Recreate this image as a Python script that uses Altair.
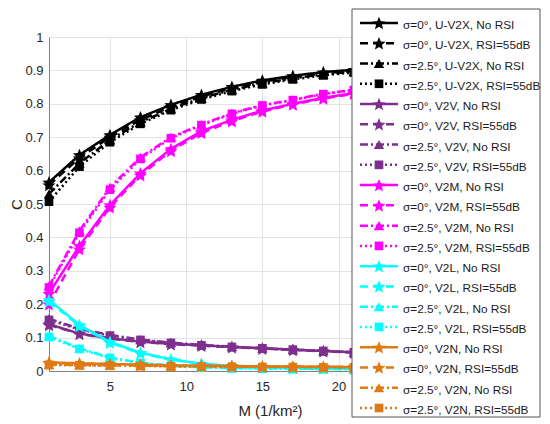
import math
import altair as alt
import pandas as pd

# ---------------- data ----------------
M = [1, 3, 5, 7, 9, 11, 13, 15, 17, 19, 21]

uv2x_s0_no = [0.565, 0.647, 0.707, 0.760, 0.797, 0.827, 0.851, 0.870, 0.884, 0.895, 0.902]
uv2x_s0_rsi = [0.557, 0.638, 0.700, 0.752, 0.791, 0.822, 0.846, 0.866, 0.880, 0.891, 0.899]
uv2x_s25_no = [0.530, 0.622, 0.692, 0.745, 0.785, 0.817, 0.842, 0.862, 0.876, 0.888, 0.896]
uv2x_s25_rsi = [0.507, 0.612, 0.685, 0.740, 0.781, 0.813, 0.838, 0.858, 0.873, 0.885, 0.894]

v2v_s0_no = [0.140, 0.112, 0.098, 0.088, 0.081, 0.077, 0.072, 0.068, 0.064, 0.060, 0.056]
v2v_s0_rsi = [0.138, 0.111, 0.097, 0.087, 0.080, 0.076, 0.071, 0.067, 0.063, 0.059, 0.055]
v2v_s25_no = [0.157, 0.126, 0.108, 0.094, 0.085, 0.078, 0.073, 0.068, 0.064, 0.060, 0.056]
v2v_s25_rsi = [0.153, 0.124, 0.106, 0.093, 0.084, 0.077, 0.072, 0.068, 0.064, 0.060, 0.056]

v2m_s0_no = [0.232, 0.375, 0.497, 0.592, 0.665, 0.718, 0.752, 0.780, 0.800, 0.818, 0.832]
v2m_s0_rsi = [0.200, 0.365, 0.490, 0.586, 0.659, 0.713, 0.748, 0.777, 0.798, 0.816, 0.830]
v2m_s25_no = [0.255, 0.420, 0.550, 0.640, 0.700, 0.738, 0.772, 0.796, 0.812, 0.830, 0.842]
v2m_s25_rsi = [0.250, 0.414, 0.543, 0.635, 0.697, 0.736, 0.770, 0.795, 0.811, 0.829, 0.841]

v2l_s0_no = [0.213, 0.138, 0.087, 0.055, 0.035, 0.022, 0.015, 0.011, 0.009, 0.008, 0.007]
v2l_s0_rsi = [0.208, 0.135, 0.085, 0.053, 0.034, 0.021, 0.014, 0.011, 0.009, 0.008, 0.007]
v2l_s25_no = [0.105, 0.068, 0.040, 0.025, 0.016, 0.011, 0.009, 0.008, 0.007, 0.006, 0.006]
v2l_s25_rsi = [0.102, 0.066, 0.039, 0.024, 0.015, 0.011, 0.008, 0.007, 0.006, 0.006, 0.005]

v2n_s0_no = [0.026, 0.023, 0.021, 0.019, 0.017, 0.016, 0.015, 0.014, 0.013, 0.013, 0.012]
v2n_s0_rsi = [0.024, 0.022, 0.020, 0.018, 0.016, 0.015, 0.014, 0.013, 0.013, 0.012, 0.012]
v2n_s25_no = [0.019, 0.018, 0.017, 0.016, 0.015, 0.014, 0.013, 0.013, 0.012, 0.012, 0.011]
v2n_s25_rsi = [0.018, 0.017, 0.016, 0.015, 0.014, 0.013, 0.013, 0.012, 0.012, 0.011, 0.011]

links = ["U-V2X", "V2V", "V2M", "V2L", "V2N"]
link_colors = ["#000000", "#7E2F8E", "#FF00FF", "#00FFFF", "#E07A14"]
case_labels = ["σ=0°, {}, No RSI", "σ=0°, {}, RSI=55dB",
               "σ=2.5°, {}, No RSI", "σ=2.5°, {}, RSI=55dB"]
values = {
    "U-V2X": [uv2x_s0_no, uv2x_s0_rsi, uv2x_s25_no, uv2x_s25_rsi],
    "V2V": [v2v_s0_no, v2v_s0_rsi, v2v_s25_no, v2v_s25_rsi],
    "V2M": [v2m_s0_no, v2m_s0_rsi, v2m_s25_no, v2m_s25_rsi],
    "V2L": [v2l_s0_no, v2l_s0_rsi, v2l_s25_no, v2l_s25_rsi],
    "V2N": [v2n_s0_no, v2n_s0_rsi, v2n_s25_no, v2n_s25_rsi],
}
x_ticks = [5, 10, 15, 20]
y_ticks = [0, 0.1, 0.2, 0.3, 0.4, 0.5, 0.6, 0.7, 0.8, 0.9, 1]

# ---------------- styles ----------------
def star_path(inner=0.45):
    pts = []
    for k in range(10):
        r = 1.0 if k % 2 == 0 else inner
        a = math.radians(-90 + 36 * k)
        pts.append((r * math.cos(a), r * math.sin(a) + 0.1))
    return "M" + "L".join(f"{x:.3f},{y:.3f}" for x, y in pts) + "Z"

STAR = star_path()
case_dash = [[1, 0], [8, 5], [8, 3, 2, 3], [2, 3]]
case_shape = [STAR, STAR, "triangle-up", "square"]
case_size = [190, 190, 110, 75]
FONT = "Liberation Sans"

rows = []
leg_rows = []
series_style = []
for li, link in enumerate(links):
    for ci in range(4):
        label = case_labels[ci].format(link)
        sid = len(series_style)
        for m, c in zip(M, values[link][ci]):
            rows.append({"M": m, "C": c, "sid": sid})
        leg_rows.append({"idx": sid, "label": label, "kind": ci})
        series_style.append((label, link_colors[li], ci))
df = pd.DataFrame(rows)
leg = pd.DataFrame(leg_rows)
labels = [r["label"] for r in leg_rows]
label_colors = [s[1] for s in series_style]
label_dashes = [case_dash[s[2]] for s in series_style]

x_enc = alt.X("M:Q", scale=alt.Scale(domain=[1, 30], nice=False, zero=False),
              axis=alt.Axis(values=x_ticks, title="M (1/km²)",
                            titleX=221, titleY=39, titleBaseline="middle",
                            titleAlign="center", labelPadding=9, orient="bottom"))
y_enc = alt.Y("C:Q", scale=alt.Scale(domain=[0, 1], nice=False),
              axis=alt.Axis(values=y_ticks, format="~g", title="C",
                            titleX=-33, titleY=167, titleBaseline="middle",
                            titleAlign="center", titleAngle=-90, labelPadding=6,
                            orient="left"))

base = alt.Chart(df).encode(x=x_enc, y=y_enc)
data_layers = []
for sid, (label, col, ci) in enumerate(series_style):
    f = alt.datum.sid == sid
    data_layers.append(
        base.transform_filter(f).mark_line(color=col, strokeWidth=2.5,
                                           strokeDash=case_dash[ci])
    )
    data_layers.append(
        base.transform_filter(f).mark_point(shape=case_shape[ci], size=case_size[ci],
                                            filled=True, opacity=1, color=col)
    )
plot = alt.layer(*data_layers)

# ---------------- legend ----------------
lb = alt.Chart(leg)
y_leg = alt.Y("idx:Q", scale=alt.Scale(domain=[0, 19], range=[-14, 371]), axis=None)
col_enc = alt.Color("label:N", scale=alt.Scale(domain=labels, range=label_colors), legend=None)
dash_enc = alt.StrokeDash("label:N", scale=alt.Scale(domain=labels, range=label_dashes), legend=None)

box = alt.Chart(pd.DataFrame({"a": [0]})).mark_rect(
    fill="white", stroke="#555555", strokeWidth=1
).encode(x=alt.value(303), x2=alt.value(491), y=alt.value(-28), y2=alt.value(380))

leg_lines = lb.mark_rule(strokeWidth=2.5).encode(
    x=alt.value(311), x2=alt.value(349), y=y_leg, color=col_enc, strokeDash=dash_enc)

leg_points = []
for ci in range(4):
    leg_points.append(
        lb.transform_filter(alt.datum.kind == ci).mark_point(
            shape=case_shape[ci], size=case_size[ci], filled=True, opacity=1
        ).encode(x=alt.value(330), y=y_leg, color=col_enc)
    )

leg_text = lb.mark_text(align="left", baseline="middle", dy=2, fontSize=11.8,
                        font=FONT, color="#1a1a1a").encode(
    x=alt.value(354), y=y_leg, text="label:N")

legend = alt.layer(box, leg_lines, *leg_points, leg_text)

chart = alt.layer(plot, legend).resolve_scale(
    y="independent", color="independent", strokeDash="independent"
).properties(
    width=442, height=334,
    autosize=alt.AutoSizeParams(type="none"),
    padding={"left": 41, "top": 29, "right": 51, "bottom": 53},
    background="white",
).configure_view(stroke=None).configure_axis(
    labelFont=FONT, titleFont=FONT, labelFontSize=13, titleFontSize=15,
    labelColor="#262626", titleColor="#262626", titleFontWeight="normal",
    domainColor="#808080", domainWidth=1, gridColor="#e3e3e3", gridWidth=1,
    ticks=False,
)

chart.save("out.html", embed_options={"renderer": "svg", "actions": False})
